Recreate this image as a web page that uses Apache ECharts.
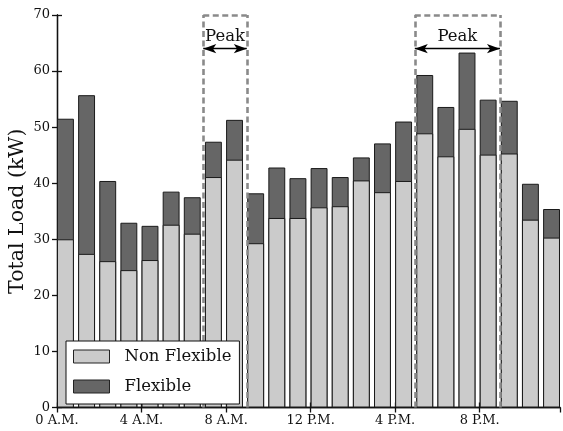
<!DOCTYPE html>
<html>
<head>
<meta charset="utf-8">
<script src="https://cdn.jsdelivr.net/npm/echarts@6/dist/echarts.min.js"></script>
<style>html,body{margin:0;padding:0;background:#fff}#c{width:563px;height:431px}</style>
</head>
<body>
<div id="c"></div>
<script>
// hour-of-day index for each bar
const hours = [0,1,2,3,4,5,6,7,8,9,10,11,12,13,14,15,16,17,18,19,20,21,22,23];
// non-flexible load (kW)
const nonFlexible = [30.0,27.4,26.1,24.5,26.3,32.6,31.0,41.1,44.2,29.3,33.8,33.8,35.7,35.9,40.5,38.4,40.4,48.9,44.8,49.7,45.1,45.3,33.5,30.3];
// flexible load (kW), stacked on top of the non-flexible part
const flexible = [21.5,28.3,14.3,8.45,6.1,5.9,6.5,6.3,7.1,8.9,9.0,7.1,7.0,5.2,4.1,8.7,10.6,10.4,8.8,13.6,9.8,9.4,6.4,5.1];
// x tick labels
const tickHours = [0,4,8,12,16,20];
const tickLabels = ['0 A.M.','4 A.M.','8 A.M.','12 P.M.','4 P.M.','8 P.M.'];
// peak windows (hours) and annotation level (kW)
const peakWindows = [[6.92, 8.98], [16.93, 20.96]];
const peakArrowLevel = 64;
const peakLabel = 'Peak';
const yMax = 70;

const FONT = 'DejaVu Serif';
const barOffset = 0.4;
// stack top = non flexible + flexible
const stackTop = nonFlexible.map((v, i) => +(v + flexible[i]).toFixed(2));

const chart = echarts.init(document.getElementById('c'), null, {renderer: 'canvas'});

const markData = [];
peakWindows.forEach(([a, b]) => {
  const dash = {color: '#8a8a8a', width: 2.6, type: [6, 3.5]};
  markData.push([{coord: [a, 0], lineStyle: dash, symbol: 'none'}, {coord: [a, yMax], symbol: 'none'}]);
  markData.push([{coord: [b, 0], lineStyle: dash, symbol: 'none'}, {coord: [b, yMax], symbol: 'none'}]);
  markData.push([{coord: [a, yMax], lineStyle: dash, symbol: 'none'}, {coord: [b, yMax], symbol: 'none'}]);
  markData.push([
    {coord: [a, peakArrowLevel], lineStyle: {color: '#000', width: 1.4, type: 'solid'},
     label: {show: true, formatter: peakLabel, position: 'insideMiddleTop', distance: 3,
             fontFamily: FONT, fontSize: 16.5, color: '#111'}},
    {coord: [b, peakArrowLevel]}
  ]);
});

const axisLineStyle = {color: '#111', width: 1.3};

const option = {
  animation: false,
  backgroundColor: '#fff',
  textStyle: {fontFamily: FONT},
  grid: {left: 57, right: 3, top: 15, bottom: 23.5, containLabel: false, outerBoundsMode: 'none'},
  legend: {
    data: ['Non Flexible', 'Flexible'],
    orient: 'vertical',
    left: 66, top: 341,
    padding: [7, 8, 9, 7],
    itemWidth: 36, itemHeight: 13, itemGap: 13,
    icon: 'rect',
    backgroundColor: '#fff',
    borderColor: '#111', borderWidth: 1, borderRadius: 0,
    itemStyle: {borderColor: '#222', borderWidth: 1},
    textStyle: {fontFamily: FONT, fontSize: 16.5, color: '#111', padding: [0, 0, 0, 10]},
    z: 10
  },
  xAxis: [
    {
      type: 'value', min: 0, max: 23.8, interval: 4, position: 'bottom',
      axisLine: {show: true, lineStyle: axisLineStyle},
      axisTick: {show: true, inside: true, length: 5, lineStyle: {color: '#111', width: 1.3}},
      axisLabel: {show: true, showMaxLabel: false, margin: 7, fontFamily: FONT, fontSize: 13, color: '#111',
        formatter: v => { const i = tickHours.indexOf(v); return i >= 0 ? tickLabels[i] : ''; }},
      splitLine: {show: false}
    },
    {
      type: 'value', min: 0, max: 23.8, interval: 4, position: 'top',
      axisLine: {show: true, lineStyle: axisLineStyle},
      axisTick: {show: true, inside: true, length: 5, lineStyle: {color: '#111', width: 1.3}},
      axisLabel: {show: false},
      splitLine: {show: false}
    }
  ],
  yAxis: [
    {
      type: 'value', min: 0, max: yMax, interval: 10, position: 'left',
      name: 'Total Load (kW)', nameLocation: 'middle', nameGap: 29, nameMoveOverlap: false,
      nameTextStyle: {fontFamily: FONT, fontSize: 20.5, color: '#111'},
      axisLine: {show: true, lineStyle: axisLineStyle},
      axisTick: {show: true, inside: true, length: 5, lineStyle: {color: '#111', width: 1.3}},
      axisLabel: {margin: 7, fontFamily: FONT, fontSize: 13, color: '#111'},
      splitLine: {show: false}
    },
    {
      type: 'value', min: 0, max: yMax, interval: 10, position: 'right',
      axisLine: {show: true, lineStyle: axisLineStyle},
      axisTick: {show: true, inside: true, length: 5, lineStyle: {color: '#111', width: 1.3}},
      axisLabel: {show: false},
      splitLine: {show: false}
    }
  ],
  series: [
    {
      name: 'Flexible', type: 'bar', xAxisIndex: 0, yAxisIndex: 0,
      barWidth: 16.9, barGap: '-100%',
      itemStyle: {color: '#666666', borderColor: '#1a1a1a', borderWidth: 1},
      data: hours.map((h, i) => [h + barOffset, stackTop[i]]),
      z: 2,
      markLine: {
        silent: true, animation: false,
        symbol: ['arrow', 'arrow'], symbolSize: [7, 13],
        label: {show: false},
        emphasis: {disabled: true},
        data: markData,
        z: 5
      }
    },
    {
      name: 'Non Flexible', type: 'bar', xAxisIndex: 0, yAxisIndex: 0,
      barWidth: 16.9, barGap: '-100%',
      itemStyle: {color: '#cbcbcb', borderColor: '#1a1a1a', borderWidth: 1},
      data: hours.map((h, i) => [h + barOffset, nonFlexible[i]]),
      z: 3
    }
  ]
};
chart.setOption(option);
</script>
</body>
</html>
